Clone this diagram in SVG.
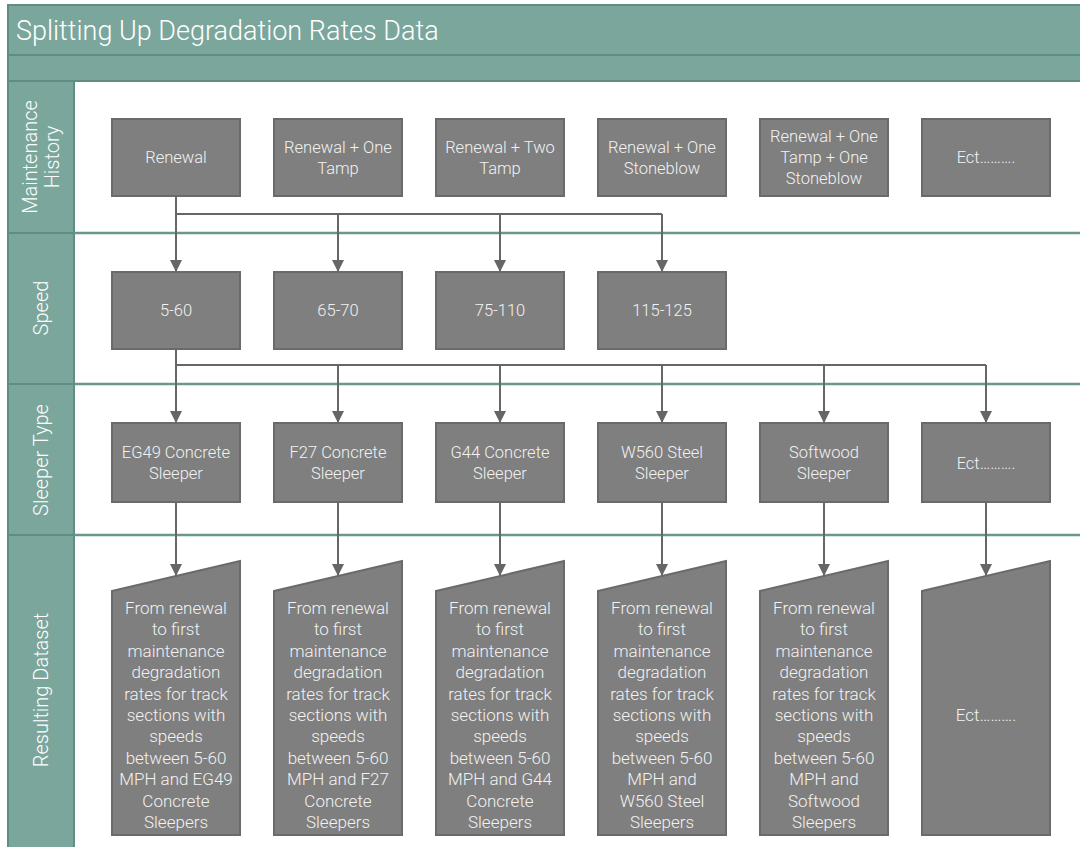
<svg xmlns="http://www.w3.org/2000/svg" width="1080" height="847" viewBox="0 0 1080 847">
  <style>
    .band { fill: #7BA69C; stroke: #5F8D82; stroke-width: 2; }
    .lane-line { stroke: #6A978C; stroke-width: 2.5; fill: none; }
    .lane-label { font-family: Roboto, "Liberation Sans", sans-serif; font-weight: 300; font-size: 20px; fill: #FFFFFF; text-anchor: middle; }
    .title { font-family: Roboto, "Liberation Sans", sans-serif; font-weight: 300; font-size: 27px; fill: #FFFFFF; }
    .box { fill: #7F7F7F; stroke: #6A6A6A; stroke-width: 2; }
    .label { font-family: Roboto, "Liberation Sans", sans-serif; font-weight: 300; font-size: 16.5px; fill: #F2F2F2; text-anchor: middle; }
    .rlabel { font-family: Roboto, "Liberation Sans", sans-serif; font-weight: 300; font-size: 17px; fill: #F2F2F2; text-anchor: middle; }
    .conn { stroke: #666666; stroke-width: 2; fill: none; }
  </style>
  <defs>
    <marker id="arrow" viewBox="0 0 12 12" refX="12" refY="6" markerWidth="12" markerHeight="12" markerUnits="userSpaceOnUse" orient="auto">
      <path d="M0,0 L12,6 L0,12 Z" fill="#666666"/>
    </marker>
  </defs>

  <rect width="1080" height="847" fill="#FFFFFF"/>

  <!-- pool frame: title band, sub band, lane header column -->
  <g id="pool">
    <rect class="band" x="8" y="5" width="1080" height="50"/>
    <text class="title" x="16" y="40">Splitting Up Degradation Rates Data</text>
    <rect class="band" x="8" y="55" width="1080" height="26"/>
    <rect class="band" x="8" y="81" width="66" height="780"/>
    <line class="lane-line" x1="74" y1="233" x2="1080" y2="233"/>
    <line class="lane-line" x1="74" y1="384" x2="1080" y2="384"/>
    <line class="lane-line" x1="74" y1="535" x2="1080" y2="535"/>
    <line x1="8" y1="233" x2="74" y2="233" stroke="#5F8D82" stroke-width="2"/>
    <line x1="8" y1="384" x2="74" y2="384" stroke="#5F8D82" stroke-width="2"/>
    <line x1="8" y1="535" x2="74" y2="535" stroke="#5F8D82" stroke-width="2"/>
  </g>

  <g id="lane-maintenance">
    <text class="lane-label" transform="translate(41,157) rotate(-90)"><tspan x="0" y="-4">Maintenance</tspan><tspan x="0" y="18">History</tspan></text>
  </g>
  <g id="lane-speed">
    <text class="lane-label" transform="translate(41,308) rotate(-90)" y="7">Speed</text>
  </g>
  <g id="lane-sleeper">
    <text class="lane-label" transform="translate(41,460) rotate(-90)" y="7">Sleeper Type</text>
  </g>
  <g id="lane-result">
    <text class="lane-label" transform="translate(41,690) rotate(-90)" y="7">Resulting Dataset</text>
  </g>

  <!-- connectors -->
  <g id="connectors">
    <path class="conn" d="M176,196 V214 H662"/>
    <path class="conn" d="M176,214 V272" marker-end="url(#arrow)"/>
    <path class="conn" d="M338,214 V272" marker-end="url(#arrow)"/>
    <path class="conn" d="M500,214 V272" marker-end="url(#arrow)"/>
    <path class="conn" d="M662,214 V272" marker-end="url(#arrow)"/>

    <path class="conn" d="M176,349 V365 H986"/>
    <path class="conn" d="M176,365 V423" marker-end="url(#arrow)"/>
    <path class="conn" d="M338,365 V423" marker-end="url(#arrow)"/>
    <path class="conn" d="M500,365 V423" marker-end="url(#arrow)"/>
    <path class="conn" d="M662,365 V423" marker-end="url(#arrow)"/>
    <path class="conn" d="M824,365 V423" marker-end="url(#arrow)"/>
    <path class="conn" d="M986,365 V423" marker-end="url(#arrow)"/>

    <path class="conn" d="M176,502 V576" marker-end="url(#arrow)"/>
    <path class="conn" d="M338,502 V576" marker-end="url(#arrow)"/>
    <path class="conn" d="M500,502 V576" marker-end="url(#arrow)"/>
    <path class="conn" d="M662,502 V576" marker-end="url(#arrow)"/>
    <path class="conn" d="M824,502 V576" marker-end="url(#arrow)"/>
    <path class="conn" d="M986,502 V576" marker-end="url(#arrow)"/>
  </g>

  <!-- maintenance history -->
  <g id="mh-renewal">
    <rect class="box" x="112" y="119" width="128" height="77"/>
    <text class="label" x="176" y="163">Renewal</text>
  </g>
  <g id="mh-one-tamp">
    <rect class="box" x="274" y="119" width="128" height="77"/>
    <text class="label"><tspan x="338" y="153">Renewal + One</tspan><tspan x="338" y="174">Tamp</tspan></text>
  </g>
  <g id="mh-two-tamp">
    <rect class="box" x="436" y="119" width="128" height="77"/>
    <text class="label"><tspan x="500" y="153">Renewal + Two</tspan><tspan x="500" y="174">Tamp</tspan></text>
  </g>
  <g id="mh-one-stoneblow">
    <rect class="box" x="598" y="119" width="128" height="77"/>
    <text class="label"><tspan x="662" y="153">Renewal + One</tspan><tspan x="662" y="174">Stoneblow</tspan></text>
  </g>
  <g id="mh-tamp-stoneblow">
    <rect class="box" x="760" y="119" width="128" height="77"/>
    <text class="label"><tspan x="824" y="142">Renewal + One</tspan><tspan x="824" y="163">Tamp + One</tspan><tspan x="824" y="184">Stoneblow</tspan></text>
  </g>
  <g id="mh-etc">
    <rect class="box" x="922" y="119" width="128" height="77"/>
    <text class="label" x="986" y="163">Ect……….</text>
  </g>

  <!-- speed -->
  <g id="sp-5-60">
    <rect class="box" x="112" y="272" width="128" height="77"/>
    <text class="label" x="176" y="316">5-60</text>
  </g>
  <g id="sp-65-70">
    <rect class="box" x="274" y="272" width="128" height="77"/>
    <text class="label" x="338" y="316">65-70</text>
  </g>
  <g id="sp-75-110">
    <rect class="box" x="436" y="272" width="128" height="77"/>
    <text class="label" x="500" y="316">75-110</text>
  </g>
  <g id="sp-115-125">
    <rect class="box" x="598" y="272" width="128" height="77"/>
    <text class="label" x="662" y="316">115-125</text>
  </g>

  <!-- sleeper type -->
  <g id="st-eg49">
    <rect class="box" x="112" y="423" width="128" height="79"/>
    <text class="label"><tspan x="176" y="458">EG49 Concrete</tspan><tspan x="176" y="479">Sleeper</tspan></text>
  </g>
  <g id="st-f27">
    <rect class="box" x="274" y="423" width="128" height="79"/>
    <text class="label"><tspan x="338" y="458">F27 Concrete</tspan><tspan x="338" y="479">Sleeper</tspan></text>
  </g>
  <g id="st-g44">
    <rect class="box" x="436" y="423" width="128" height="79"/>
    <text class="label"><tspan x="500" y="458">G44 Concrete</tspan><tspan x="500" y="479">Sleeper</tspan></text>
  </g>
  <g id="st-w560">
    <rect class="box" x="598" y="423" width="128" height="79"/>
    <text class="label"><tspan x="662" y="458">W560 Steel</tspan><tspan x="662" y="479">Sleeper</tspan></text>
  </g>
  <g id="st-softwood">
    <rect class="box" x="760" y="423" width="128" height="79"/>
    <text class="label"><tspan x="824" y="458">Softwood</tspan><tspan x="824" y="479">Sleeper</tspan></text>
  </g>
  <g id="st-etc">
    <rect class="box" x="922" y="423" width="128" height="79"/>
    <text class="label" x="986" y="469">Ect……….</text>
  </g>

  <!-- resulting datasets (manual input shape) -->
  <g id="rd-eg49">
    <polygon class="box" points="112,591 240,561 240,835 112,835"/>
    <text class="rlabel">
      <tspan x="176" y="614">From renewal</tspan><tspan x="176" y="635">to first</tspan><tspan x="176" y="657">maintenance</tspan><tspan x="176" y="678">degradation</tspan><tspan x="176" y="700">rates for track</tspan><tspan x="176" y="721">sections with</tspan><tspan x="176" y="742">speeds</tspan><tspan x="176" y="764">between 5-60</tspan><tspan x="176" y="785">MPH and EG49</tspan><tspan x="176" y="807">Concrete</tspan><tspan x="176" y="828">Sleepers</tspan>
    </text>
  </g>
  <g id="rd-f27">
    <polygon class="box" points="274,591 402,561 402,835 274,835"/>
    <text class="rlabel">
      <tspan x="338" y="614">From renewal</tspan><tspan x="338" y="635">to first</tspan><tspan x="338" y="657">maintenance</tspan><tspan x="338" y="678">degradation</tspan><tspan x="338" y="700">rates for track</tspan><tspan x="338" y="721">sections with</tspan><tspan x="338" y="742">speeds</tspan><tspan x="338" y="764">between 5-60</tspan><tspan x="338" y="785">MPH and F27</tspan><tspan x="338" y="807">Concrete</tspan><tspan x="338" y="828">Sleepers</tspan>
    </text>
  </g>
  <g id="rd-g44">
    <polygon class="box" points="436,591 564,561 564,835 436,835"/>
    <text class="rlabel">
      <tspan x="500" y="614">From renewal</tspan><tspan x="500" y="635">to first</tspan><tspan x="500" y="657">maintenance</tspan><tspan x="500" y="678">degradation</tspan><tspan x="500" y="700">rates for track</tspan><tspan x="500" y="721">sections with</tspan><tspan x="500" y="742">speeds</tspan><tspan x="500" y="764">between 5-60</tspan><tspan x="500" y="785">MPH and G44</tspan><tspan x="500" y="807">Concrete</tspan><tspan x="500" y="828">Sleepers</tspan>
    </text>
  </g>
  <g id="rd-w560">
    <polygon class="box" points="598,591 726,561 726,835 598,835"/>
    <text class="rlabel">
      <tspan x="662" y="614">From renewal</tspan><tspan x="662" y="635">to first</tspan><tspan x="662" y="657">maintenance</tspan><tspan x="662" y="678">degradation</tspan><tspan x="662" y="700">rates for track</tspan><tspan x="662" y="721">sections with</tspan><tspan x="662" y="742">speeds</tspan><tspan x="662" y="764">between 5-60</tspan><tspan x="662" y="785">MPH and</tspan><tspan x="662" y="807">W560 Steel</tspan><tspan x="662" y="828">Sleepers</tspan>
    </text>
  </g>
  <g id="rd-softwood">
    <polygon class="box" points="760,591 888,561 888,835 760,835"/>
    <text class="rlabel">
      <tspan x="824" y="614">From renewal</tspan><tspan x="824" y="635">to first</tspan><tspan x="824" y="657">maintenance</tspan><tspan x="824" y="678">degradation</tspan><tspan x="824" y="700">rates for track</tspan><tspan x="824" y="721">sections with</tspan><tspan x="824" y="742">speeds</tspan><tspan x="824" y="764">between 5-60</tspan><tspan x="824" y="785">MPH and</tspan><tspan x="824" y="807">Softwood</tspan><tspan x="824" y="828">Sleepers</tspan>
    </text>
  </g>
  <g id="rd-etc">
    <polygon class="box" points="922,591 1050,561 1050,835 922,835"/>
    <text class="rlabel" x="986" y="721">Ect……….</text>
  </g>
</svg>
